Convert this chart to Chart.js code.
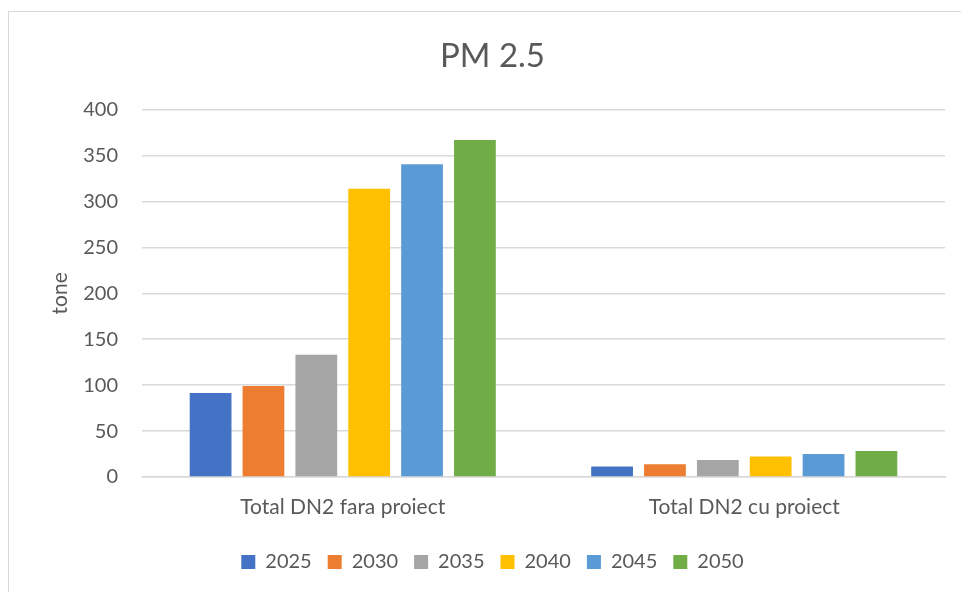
<!DOCTYPE html>
<html>
<head>
<meta charset="utf-8">
<script src="https://cdn.jsdelivr.net/npm/chart.js@4"></script>
<style>
  html, body { margin: 0; padding: 0; background: #fff; overflow: hidden; }
  #wrap { position: relative; width: 977px; height: 592px; }
  #frame { position: absolute; left: 8px; top: 11px; width: 1200px; height: 1200px; border: 1px solid #d9d9d9; box-sizing: border-box; pointer-events: none; }
  canvas { position: absolute; left: 0; top: 0; }
</style>
</head>
<body>
<div id="wrap">
  <canvas id="chart" width="977" height="592"></canvas>
  <div id="frame"></div>
</div>
<script>
// date dari grafik
const categories = ["Total DN2 fara proiect", "Total DN2 cu proiect"];
const years = ["2025", "2030", "2035", "2040", "2045", "2050"];
const colors = ["#4472C4", "#ED7D31", "#A5A5A5", "#FFC000", "#5B9BD5", "#70AD47"];
const values2025 = [91.5, 11.3];
const values2030 = [99.1, 13.8];
const values2035 = [133, 18.6];
const values2040 = [313.7, 22.2];
const values2045 = [340.6, 25.1];
const values2050 = [366.8, 28.4];
const yTicks = [0, 50, 100, 150, 200, 250, 300, 350, 400];

const allValues = [values2025, values2030, values2035, values2040, values2045, values2050];
const font = "Lato, 'Open Sans', sans-serif";
const textColor = "#595959";

const datasets = years.map((y, i) => ({
  label: y,
  data: allValues[i],
  backgroundColor: colors[i],
  borderWidth: 0,
  categoryPercentage: 0.79,
  barPercentage: 0.79,
}));

new Chart(document.getElementById("chart"), {
  type: "bar",
  data: { labels: categories, datasets },
  options: {
    responsive: false,
    animation: false,
    layout: { padding: { left: 8, right: 0, top: 0, bottom: 10 } },
    plugins: {
      title: {
        display: true,
        text: "PM 2.5",
        color: textColor,
        font: { family: font, size: 33, weight: "normal" },
        padding: { top: 37, bottom: 33 },
      },
      legend: {
        position: "bottom",
        labels: {
          color: textColor,
          font: { family: font, size: 20 },
          boxWidth: 14,
          boxHeight: 14,
          padding: 16,
        },
      },
      tooltip: { enabled: false },
    },
    scales: {
      x: {
        afterFit: (s) => { s.height = 59; },
        grid: { display: false, drawTicks: false },
        border: { color: "#d9d9d9", width: 1.5 },
        ticks: { color: textColor, font: { family: font, size: 21 }, padding: 18 },
      },
      y: {
        min: 0,
        max: 400,
        afterBuildTicks: (s) => { s.ticks = yTicks.map((v) => ({ value: v })); },
        afterFit: (s) => { s.width = 134; },
        grid: { color: "#d9d9d9", lineWidth: 1.5, drawTicks: false },
        border: { display: false },
        ticks: { color: textColor, font: { family: font, size: 20 }, padding: 24 },
        title: {
          display: true,
          text: "tone",
          color: textColor,
          font: { family: font, size: 21 },
          padding: { top: 40 },
        },
      },
      // spatiu gol in dreapta
      y2: {
        position: "right",
        afterFit: (s) => { s.width = 32; },
        grid: { display: false, drawTicks: false },
        border: { display: false },
        ticks: { display: false },
      },
    },
  },
});
</script>
</body>
</html>
